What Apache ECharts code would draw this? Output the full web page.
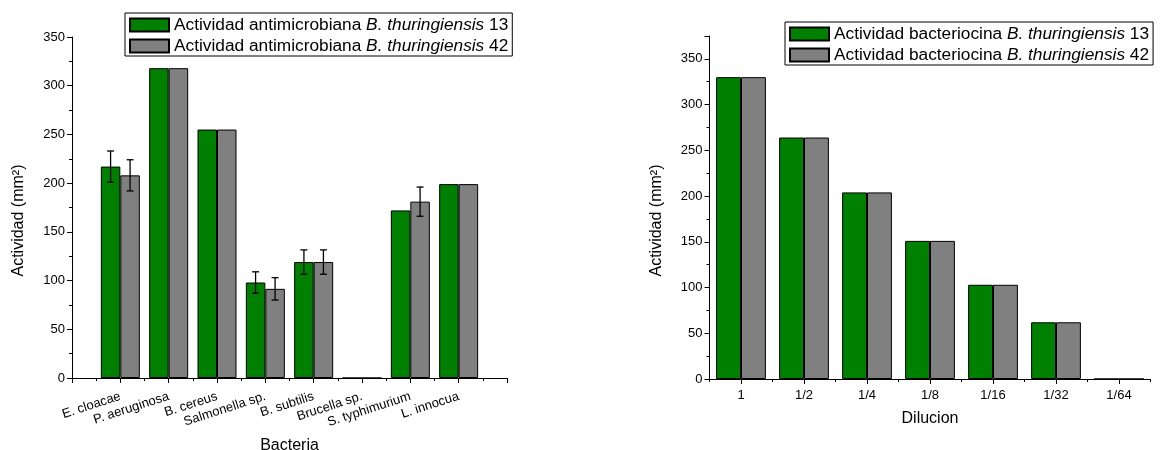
<!DOCTYPE html>
<html>
<head>
<meta charset="utf-8">
<script src="https://cdn.jsdelivr.net/npm/echarts@6/dist/echarts.min.js"></script>
<style>
  html, body { margin: 0; padding: 0; background: #fff; }
  #main { width: 1160px; height: 450px; }
</style>
</head>
<body>
<div id="main"></div>
<script>
// datos - grafico izquierdo (actividad antimicrobiana)
const bacterias = ['E. cloacae', 'P. aeruginosa', 'B. cereus', 'Salmonella sp.', 'B. subtilis', 'Brucella sp.', 'S. typhimurium', 'L. innocua'];
const antimicro13 = [217, 318, 255, 98, 119, 0, 172, 199];
const antimicro42 = [208, 318, 255, 91.5, 119, 0, 181, 199];
const error13 = [16, 0, 0, 11, 12.5, 0, 0, 0];
const error42 = [16, 0, 0, 11.5, 12.5, 0, 15, 0];

// datos - grafico derecho (bacteriocina)
const diluciones = ['1', '1/2', '1/4', '1/8', '1/16', '1/32', '1/64'];
const bacteriocina13 = [330, 264, 204, 151, 103, 62, 0];
const bacteriocina42 = [330, 264, 204, 151, 103, 62, 0];

const FONT = 'Liberation Sans';
const VERDE = '#008000';
const GRIS = '#808080';
const barW = 19.5;

const nombres = [
    'Actividad antimicrobiana B. thuringiensis 13',
    'Actividad antimicrobiana B. thuringiensis 42',
    'Actividad bacteriocina B. thuringiensis 13',
    'Actividad bacteriocina B. thuringiensis 42'
];

const chart = echarts.init(document.getElementById('main'));

function ejeY(gridIndex, max, showMax){
    return {
        type: 'value', gridIndex: gridIndex, min: 0, max: max, interval: 50,
        name: 'Actividad (mm²)', nameLocation: 'middle', nameGap: 45,
        nameTextStyle: { fontFamily: FONT, fontSize: 16, color: '#000', padding: [0, 26, 0, 0] },
        axisLine: { show: true, lineStyle: { color: '#000', width: 1 } },
        axisTick: { show: true, length: 5, lineStyle: { color: '#000' } },
        minorTick: { show: true, splitNumber: 2, length: 3, lineStyle: { color: '#000' } },
        splitLine: { show: false },
        axisLabel: { fontFamily: FONT, fontSize: 13, color: '#000', margin: 7, showMaxLabel: showMax }
    };
}

function legendFmt(name){
    return name.replace('B. thuringiensis', '{i|B. thuringiensis}');
}

const legendBase = {
    orient: 'vertical', itemWidth: 39, itemHeight: 13, itemGap: 3,
    padding: [3, 4, 1, 4], borderColor: '#000', borderWidth: 1,
    selectedMode: false, icon: 'rect',
    formatter: legendFmt,
    textStyle: {
        fontFamily: FONT, fontSize: 17.3, color: '#000', lineHeight: 18,
        rich: { i: { fontFamily: FONT, fontSize: 17.3, fontStyle: 'italic', color: '#000', lineHeight: 18 } }
    }
};

// datos para las barras de error [x, valor, error, lado]
const errData = [];
for (let i = 0; i < bacterias.length; i++) {
    errData.push([i + 1, antimicro13[i], error13[i], -1]);
    errData.push([i + 1, antimicro42[i], error42[i], 1]);
}

const option = {
    animation: false,
    backgroundColor: '#fff',
    textStyle: { fontFamily: FONT },
    grid: [
        { left: 72, right: 653, top: 37, bottom: 72, outerBoundsMode: 'none', containLabel: false },
        { left: 709.5, right: 9.5, top: 36, bottom: 71, outerBoundsMode: 'none', containLabel: false }
    ],
    legend: [
        Object.assign({}, legendBase, { left: 125, top: 13, data: [nombres[0], nombres[1]] }),
        Object.assign({}, legendBase, { left: 785, top: 22, data: [nombres[2], nombres[3]] })
    ],
    xAxis: [
        {
            type: 'value', gridIndex: 0, min: 0, max: 9, interval: 1,
            name: 'Bacteria', nameLocation: 'middle', nameGap: 60,
            nameTextStyle: { fontFamily: FONT, fontSize: 16, color: '#000' },
            axisLine: { show: true, onZero: false, lineStyle: { color: '#000', width: 1 } },
            axisTick: { show: true, length: 5, lineStyle: { color: '#000' } },
            minorTick: { show: true, splitNumber: 2, length: 3, lineStyle: { color: '#000' } },
            splitLine: { show: false },
            axisLabel: {
                fontFamily: FONT, fontSize: 13, color: '#000', rotate: 18, margin: 18,
                showMinLabel: true, showMaxLabel: true,
                formatter: function(v){ return bacterias[v - 1] || ''; }
            }
        },
        {
            type: 'category', gridIndex: 1, data: diluciones, boundaryGap: true,
            name: 'Dilucion', nameLocation: 'middle', nameGap: 32,
            nameTextStyle: { fontFamily: FONT, fontSize: 16, color: '#000' },
            axisLine: { show: true, lineStyle: { color: '#000', width: 1 } },
            axisTick: { show: true, alignWithLabel: true, length: 5, lineStyle: { color: '#000' } },
            splitLine: { show: false },
            axisLabel: { fontFamily: FONT, fontSize: 13, color: '#000', margin: 10, interval: 0 }
        },
        {
            // ticks cortos entre categorias
            type: 'category', gridIndex: 1, data: diluciones, boundaryGap: true, position: 'bottom',
            axisLine: { show: false },
            axisTick: { show: true, length: 3, interval: 0, lineStyle: { color: '#000' } },
            axisLabel: { show: false },
            splitLine: { show: false }
        }
    ],
    yAxis: [ ejeY(0, 350, true), ejeY(1, 375, false) ],
    series: [
        {
            name: nombres[0], type: 'bar', xAxisIndex: 0, yAxisIndex: 0,
            barWidth: barW, barGap: '0%',
            itemStyle: { color: VERDE, borderColor: '#000', borderWidth: 1 },
            data: antimicro13.map((v, i) => [i + 1, v])
        },
        {
            name: nombres[1], type: 'bar', xAxisIndex: 0, yAxisIndex: 0,
            barWidth: barW, barGap: '0%',
            itemStyle: { color: GRIS, borderColor: '#000', borderWidth: 1 },
            data: antimicro42.map((v, i) => [i + 1, v])
        },
        {
            type: 'custom', xAxisIndex: 0, yAxisIndex: 0, z: 5, silent: true,
            data: errData,
            renderItem: function(params, api){
                const e = api.value(2);
                if (!e) return null;
                const x = api.value(0), v = api.value(1), lado = api.value(3);
                const top = api.coord([x, v + e]);
                const bot = api.coord([x, v - e]);
                const cx = top[0] + lado * barW / 2;
                const st = { stroke: '#000', lineWidth: 1.3 };
                return {
                    type: 'group',
                    children: [
                        { type: 'line', shape: { x1: cx, y1: top[1], x2: cx, y2: bot[1] }, style: st },
                        { type: 'line', shape: { x1: cx - 3.5, y1: top[1], x2: cx + 3.5, y2: top[1] }, style: st },
                        { type: 'line', shape: { x1: cx - 3.5, y1: bot[1], x2: cx + 3.5, y2: bot[1] }, style: st }
                    ]
                };
            }
        },
        {
            name: nombres[2], type: 'bar', xAxisIndex: 1, yAxisIndex: 1,
            barGap: '0%', barCategoryGap: '21%',
            itemStyle: { color: VERDE, borderColor: '#000', borderWidth: 1 },
            data: bacteriocina13
        },
        {
            name: nombres[3], type: 'bar', xAxisIndex: 1, yAxisIndex: 1,
            barGap: '0%', barCategoryGap: '21%',
            itemStyle: { color: GRIS, borderColor: '#000', borderWidth: 1 },
            data: bacteriocina42
        }
    ]
};

chart.setOption(option);
</script>
</body>
</html>
